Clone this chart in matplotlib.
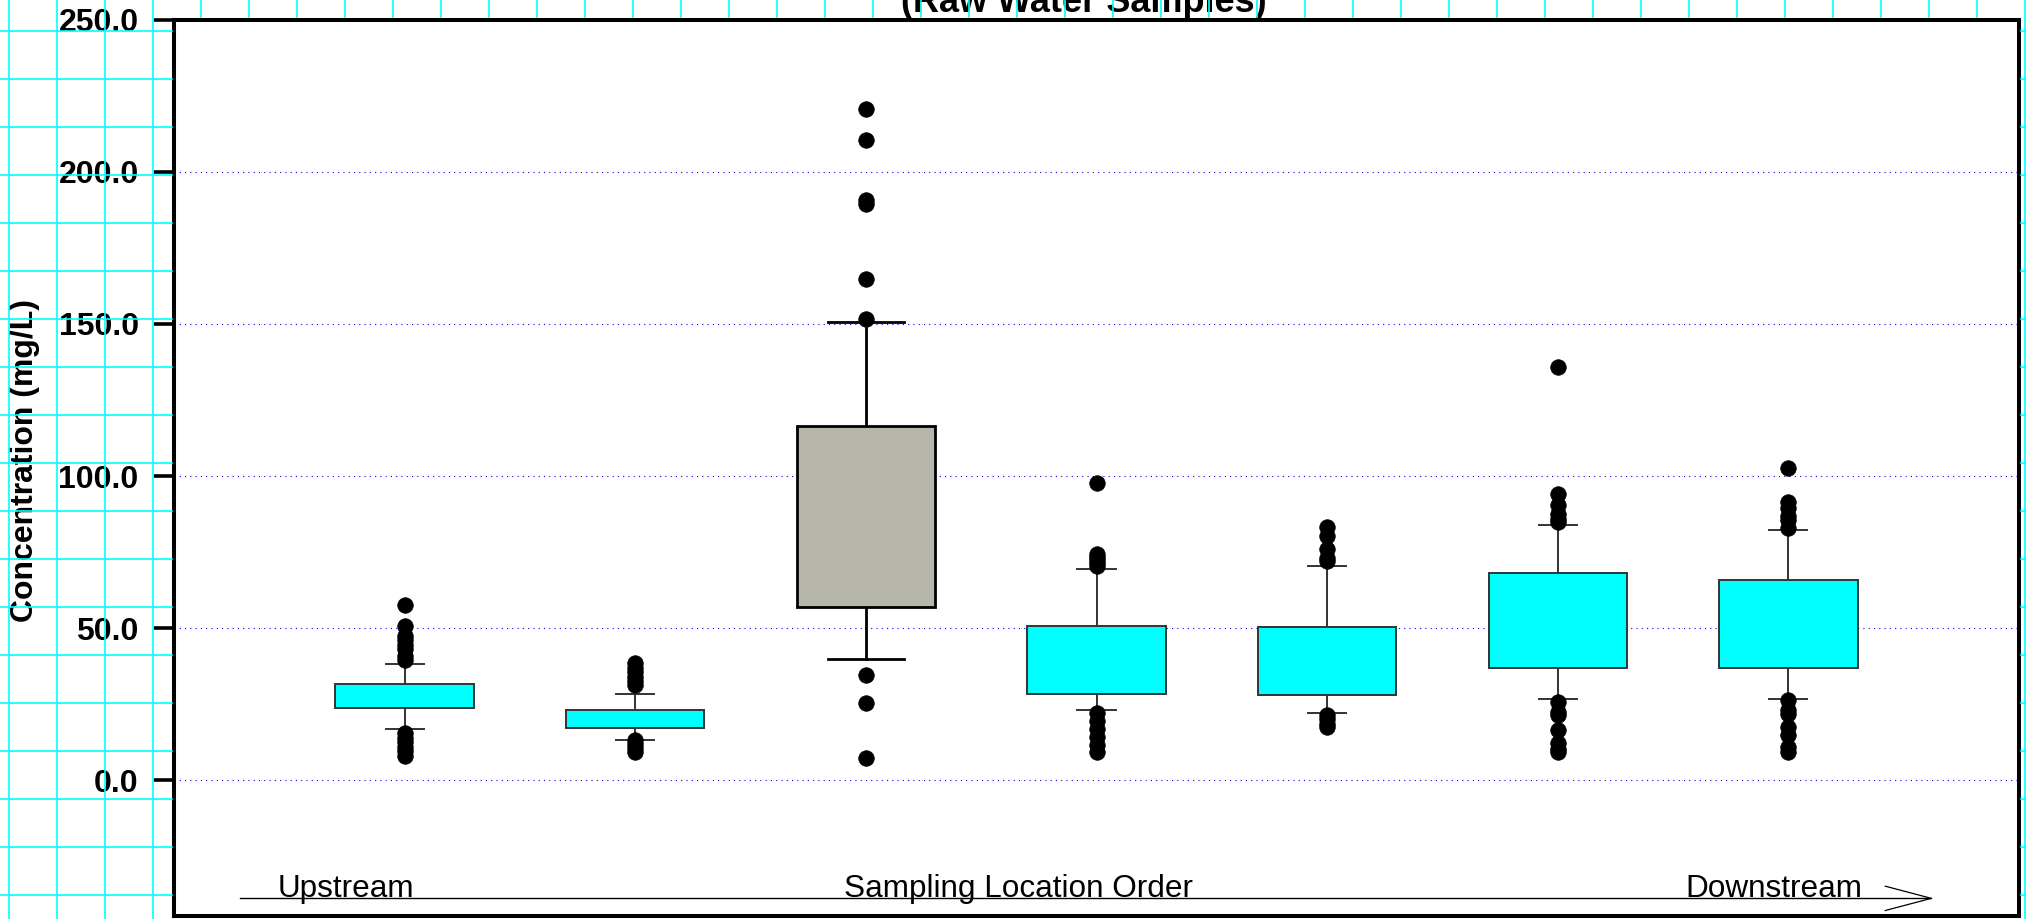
import matplotlib
matplotlib.use('Agg')
import matplotlib.pyplot as plt
from matplotlib.lines import Line2D

plt.rcParams['font.family'] = ['Liberation Sans', 'DejaVu Sans']

# ---------------- data ----------------
positions = [1, 2, 3, 4, 5, 6, 7]
q1 = [23.7, 17.1, 56.8, 28.5, 28.0, 36.8, 36.8]
medians = [27.0, 20.1, 79.3, 38.6, 34.3, 49.1, 47.4]
q3 = [31.6, 23.0, 116.6, 50.8, 50.3, 68.1, 65.8]
whislo = [16.8, 13.3, 39.9, 23.0, 22.1, 26.7, 26.7]
whishi = [38.2, 28.3, 150.7, 69.3, 70.5, 84.0, 82.2]
fliers_hi = [
    [57.6, 50.7, 47.5, 46.0, 44.5, 43.0, 41.0, 39.5],
    [38.5, 37.0, 35.5, 34.0, 32.5, 31.2],
    [220.6, 210.5, 190.6, 189.4, 164.7, 151.5],
    [97.6, 74.5, 73.5, 72.5, 71.5, 70.5],
    [83.2, 80.2, 75.9, 73.0, 72.0],
    [135.8, 94.0, 90.6, 87.5, 86.0, 85.0],
    [102.5, 91.5, 89.5, 87.0, 85.5, 83.0],
]
fliers_lo = [
    [15.5, 14.0, 12.5, 11.0, 9.5, 8.0],
    [13.2, 12.0, 10.5, 9.2],
    [34.7, 25.3, 7.2],
    [22.0, 19.5, 17.0, 14.1, 11.5, 9.2],
    [21.5, 20.0, 18.5, 17.5],
    [25.8, 22.5, 21.5, 16.4, 12.1, 10.3, 9.3],
    [26.3, 23.0, 21.8, 17.5, 14.8, 11.0, 9.3],
]
box_colors = ['#00FFFF', '#00FFFF', '#B6B6AA', '#00FFFF', '#00FFFF', '#00FFFF', '#00FFFF']
highlight = [False, False, True, False, False, False, False]
yticks = [0, 50, 100, 150, 200, 250]
ytick_labels = ['0.0', '50.0', '100.0', '150.0', '200.0', '250.0']
title = '(Raw Water Samples)'
ylabel = 'Concentration (mg/L)'
order_labels = ['Upstream', 'Sampling Location Order', 'Downstream']
order_label_x = [0.45, 2.905, 6.554]

# ---------------- layout ----------------
W, H = 2026, 919
fig = plt.figure(figsize=(W / 100, H / 100), dpi=100, facecolor='white')
ax_l, ax_r, ax_t, ax_b = 174, 2019, 19.6, 916
ax = fig.add_axes([ax_l / W, 1 - ax_b / H, (ax_r - ax_l) / W, (ax_b - ax_t) / H])
ax.set_facecolor('white')
ax.set_xlim(0, 8)
ax.set_ylim(-44.6, 250)

# background graph-paper grid (outside the plotting area)
gx0, gy0, gstep = 9, 31, 48
gkw = dict(color='#00FFFF', lw=1.2, zorder=10, transform=fig.transFigure)
x = gx0
while x < W:
    if x < ax_l - 3 or x > ax_r + 3:
        fig.add_artist(Line2D([x / W, x / W], [0, 1], **gkw))
    else:
        fig.add_artist(Line2D([x / W, x / W], [1, 1 - (ax_t - 2.5) / H], **gkw))
    x += gstep
y = gy0
while y < H:
    fig.add_artist(Line2D([0, (ax_l - 2) / W], [1 - y / H, 1 - y / H], **gkw))
    fig.add_artist(Line2D([(ax_r + 2) / W, 1], [1 - y / H, 1 - y / H], **gkw))
    y += gstep

# ---------------- boxes ----------------
stats = []
for i in range(len(positions)):
    stats.append(dict(med=medians[i], q1=q1[i], q3=q3[i], whislo=whislo[i],
                      whishi=whishi[i], fliers=fliers_hi[i] + fliers_lo[i]))
capw = [0.33 if h else 0.165 for h in highlight]
bp = ax.bxp(stats, positions=positions, widths=0.6, capwidths=capw,
            patch_artist=True, showfliers=True,
            boxprops=dict(edgecolor='#333333', linewidth=1.4),
            medianprops=dict(color='#222222', linewidth=1.6),
            whiskerprops=dict(color='#333333', linewidth=1.4),
            capprops=dict(color='#333333', linewidth=1.4),
            flierprops=dict(marker='o', markerfacecolor='black', markeredgecolor='black',
                            markersize=11.2, markeredgewidth=0.5, linestyle='none'))
for i, b in enumerate(bp['boxes']):
    b.set_facecolor(box_colors[i])
    b.set_zorder(3)
    if highlight[i]:
        b.set_edgecolor('black')
        b.set_linewidth(2.0)
        bp['medians'][i].set_color('black')
        bp['medians'][i].set_linewidth(2.0)
        for art in bp['whiskers'][2 * i:2 * i + 2] + bp['caps'][2 * i:2 * i + 2]:
            art.set_color('black')
            art.set_linewidth(2.0)
for f in bp['fliers']:
    f.set_zorder(4)

# ---------------- axes styling ----------------
ax.set_yticks(yticks)
ax.set_yticklabels(ytick_labels, fontweight='bold')
ax.set_xticks([])
ax.tick_params(axis='y', direction='out', length=14.4, width=2.6, pad=11.0,
               labelsize=23, colors='black')
ax.yaxis.grid(True, color='#0000FF', linestyle=(0, (1, 3.75)), linewidth=0.8)
ax.set_axisbelow(True)
for s in ax.spines.values():
    s.set_linewidth(2.9)
    s.set_color('black')

fig.text(25 / W, 1 - 460.6 / H, ylabel, rotation=90, ha='center', va='center',
         fontsize=23, fontweight='bold')
fig.text(1084 / W, 1 - 12 / H, title, ha='center', va='baseline',
         fontsize=26, fontweight='bold')

# bottom direction annotation
arrow_y = -38.8
arrow_x0, arrow_x1 = 0.286, 7.62
head_dx, head_dy = 0.20, 4.0
ax.plot([arrow_x0, arrow_x1], [arrow_y, arrow_y], color='black', lw=1.0, zorder=5)
ax.plot([arrow_x1 - head_dx, arrow_x1, arrow_x1 - head_dx],
        [arrow_y + head_dy, arrow_y, arrow_y - head_dy], color='black', lw=0.9, zorder=5)
for lab, lx in zip(order_labels, order_label_x):
    ax.text(lx, arrow_y + 0.6, lab, ha='left', va='baseline', fontsize=22.7, zorder=6)

fig.savefig('out.png', dpi=100, facecolor='white')
